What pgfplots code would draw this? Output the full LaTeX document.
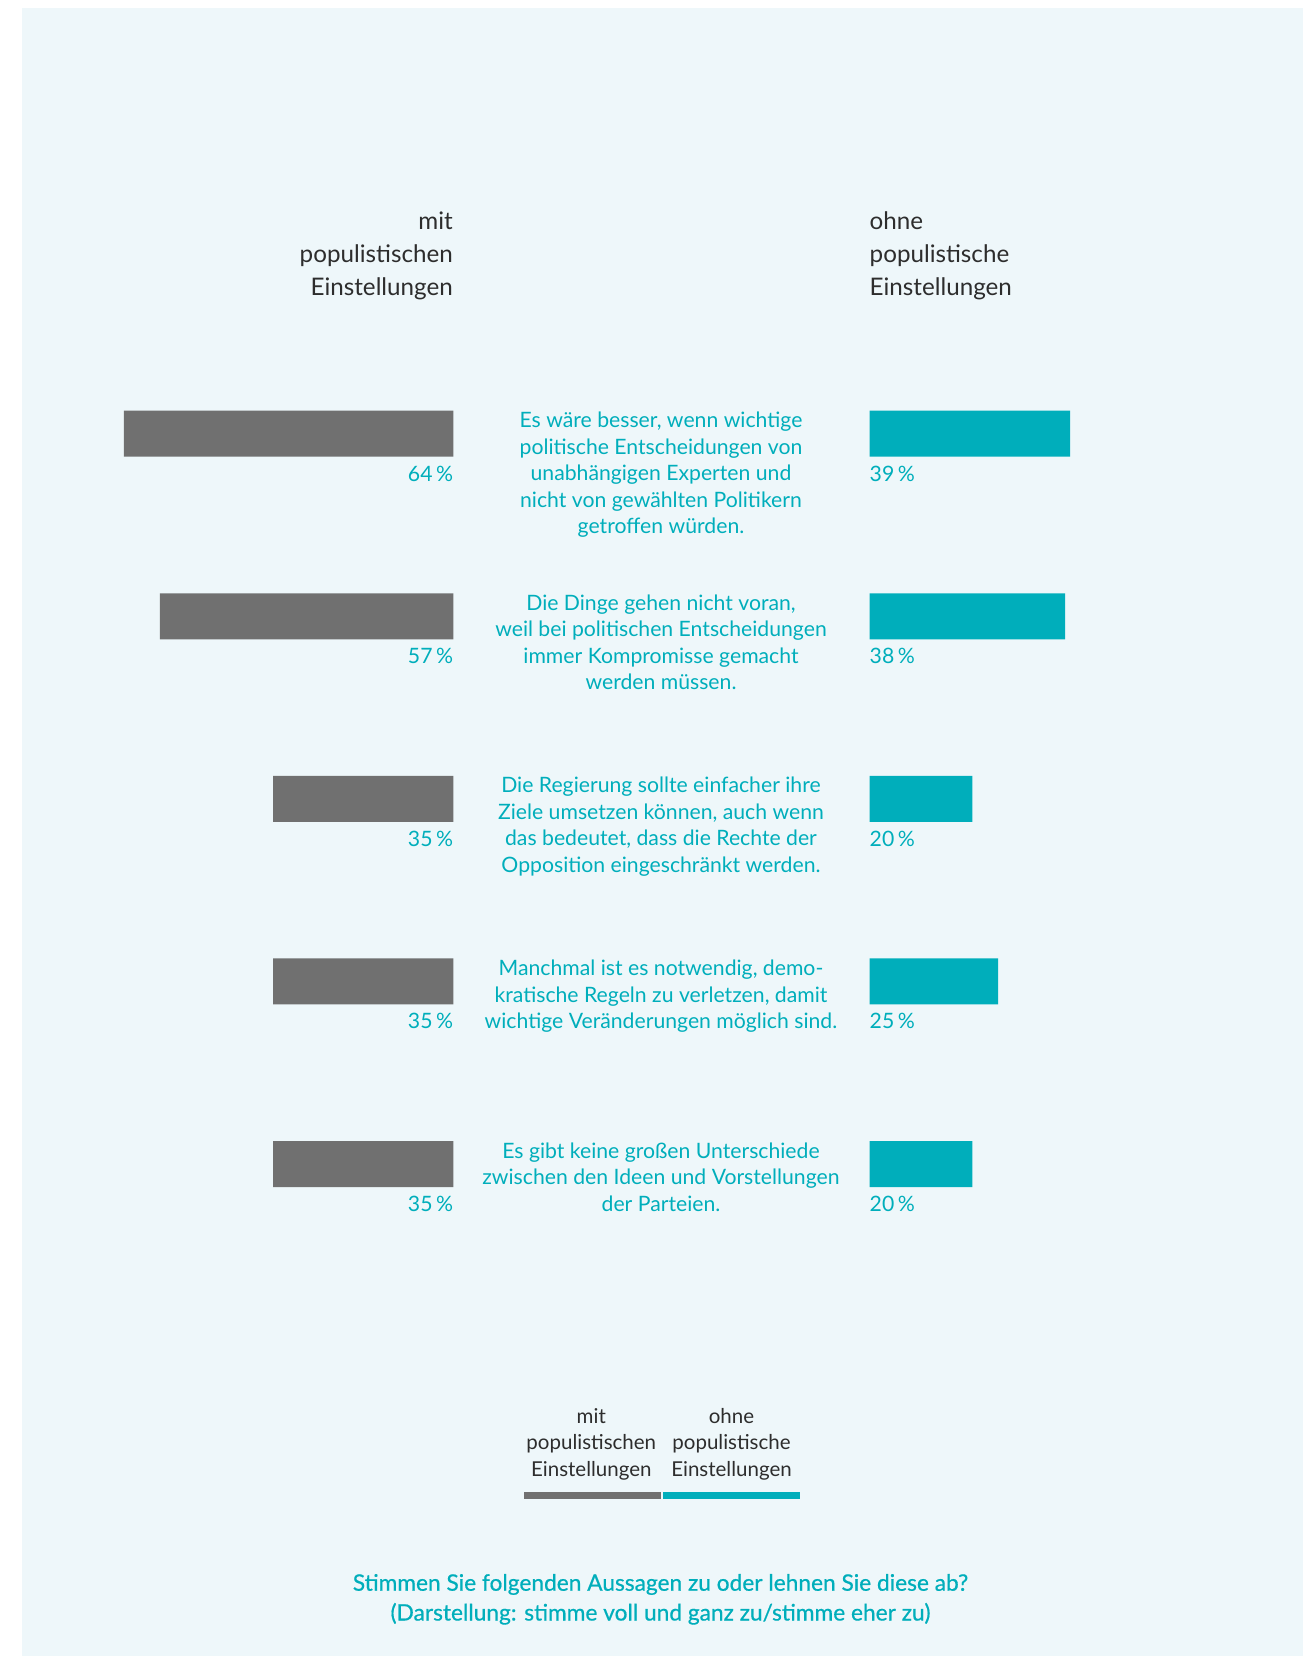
\documentclass[border=0pt]{standalone}
\usepackage{fontspec}
\setmainfont{Lato}
\newfontfamily\medfont{Lato}[FakeBold=0.6]
\usepackage{pgfplots}
\usepackage{pgfplotstable}
\pgfplotsset{compat=1.18}

\definecolor{tealc}{HTML}{00AEBB}
\definecolor{grayc}{HTML}{707070}
\definecolor{bgc}{HTML}{EEF7FA}
\definecolor{darkc}{HTML}{2D2D2D}

% pos = row (0 = top), mit / ohne = share in percent, lx = where the label sits
\pgfplotstableread{
pos mit ohne lx
0   64  39   0
1   57  38   0
2   35  20   0
3   35  25   0
4   35  20   0
}\data

\tikzset{
  stmt/.style={font=\fontsize{21.2}{26}\selectfont, text=tealc},
  hdr/.style={font=\fontsize{24.2}{30}\selectfont, text=darkc},
  leg/.style={font=\fontsize{20.5}{26}\selectfont, text=darkc},
  ttl/.style={font=\medfont\fontsize{22.7}{29}\selectfont, text=tealc},
}

% #1 x, #2 first baseline (from top), #3 line distance, #4 node options, #5 lines
\newcommand\textlines[5]{%
  \foreach \t [count=\i from 0] in {#5} {
    \node[anchor=base, inner sep=0pt, #4] at ({#1pt},{-(#2+#3*\i)*1pt}) {\t};
  }%
}

\begin{document}
\begin{tikzpicture}
\path[use as bounding box] (0,0) rectangle (1303pt,-1656pt);
\fill[white] (0,0) rectangle (1303pt,-1656pt);
\fill[bgc] (22pt,-8pt) rectangle (1303pt,-1656pt);

% left: mit populistischen Einstellungen
\begin{axis}[
  at={(453.3pt,-251.1pt)}, anchor=north east,
  scale only axis, width=411.7pt, height=1095.6pt,
  x dir=reverse, y dir=reverse,
  xmin=0, xmax=80, ymin=-1, ymax=5,
  hide axis, clip=false,
]
\addplot[xbar, fill=grayc, draw=none, bar width=46pt, bar shift=0pt]
  table[x=mit, y=pos] {\data};
\addplot[draw=none, mark=none,
  point meta=explicit symbolic,
  nodes near coords={\pgfplotspointmeta\,\%},
  every node near coord/.append style={stmt, anchor=base east, inner sep=0pt, yshift=-47.3pt}]
  table[x=lx, y=pos, meta=mit] {\data};
\end{axis}

% right: ohne populistische Einstellungen
\begin{axis}[
  at={(869.5pt,-251.1pt)}, anchor=north west,
  scale only axis, width=411.7pt, height=1095.6pt,
  y dir=reverse,
  xmin=0, xmax=80, ymin=-1, ymax=5,
  hide axis, clip=false,
]
\addplot[xbar, fill=tealc, draw=none, bar width=46pt, bar shift=0pt]
  table[x=ohne, y=pos] {\data};
\addplot[draw=none, mark=none,
  point meta=explicit symbolic,
  nodes near coords={\pgfplotspointmeta\,\%},
  every node near coord/.append style={stmt, anchor=base west, inner sep=0pt, yshift=-47.3pt}]
  table[x=lx, y=pos, meta=ohne] {\data};
\end{axis}

% legend swatches
\begin{axis}[
  at={(524pt,-1492pt)}, anchor=north west,
  scale only axis, width=276pt, height=7.3pt,
  xmin=524, xmax=800, ymin=0, ymax=1,
  hide axis, clip=false,
]
\addplot[grayc, line width=7.3pt] coordinates {(524,0.5) (661,0.5)};
\addplot[tealc, line width=7.3pt] coordinates {(663,0.5) (800,0.5)};
\end{axis}

% column heads
\textlines{453}{229.3}{33}{hdr, anchor=base east}{mit,populistischen,Einstellungen}
\textlines{869.5}{229.3}{33}{hdr, anchor=base west}{ohne,populistische,Einstellungen}

% statements
\textlines{661}{427.7}{26.5}{stmt}{{Es wäre besser, wenn wichtige},{politische Entscheidungen von},{unabhängigen Experten und},{nicht von gewählten Politikern},{getroffen würden.}}
\textlines{661}{610.3}{26.5}{stmt}{{Die Dinge gehen nicht voran,},{weil bei politischen Entscheidungen},{immer Kompromisse gemacht},{werden müssen.}}
\textlines{661}{792.9}{26.5}{stmt}{{Die Regierung sollte einfacher ihre},{Ziele umsetzen können, auch wenn},{das bedeutet, dass die Rechte der},{Opposition eingeschränkt werden.}}
\textlines{661}{975.5}{26.5}{stmt}{{Manchmal ist es notwendig, demo-},{kratische Regeln zu verletzen, damit},{wichtige Veränderungen möglich sind.}}
\textlines{661}{1158.1}{26.5}{stmt}{{Es gibt keine großen Unterschiede},{zwischen den Ideen und Vorstellungen},{der Parteien.}}

% legend text
\textlines{591.3}{1423}{26.5}{leg}{mit,populistischen,Einstellungen}
\textlines{731.5}{1423}{26.5}{leg}{ohne,populistische,Einstellungen}

% question
\textlines{660.5}{1590.7}{29.8}{ttl}{{Stimmen Sie folgenden Aussagen zu oder lehnen Sie diese ab?},{(Darstellung: stimme voll und ganz zu/stimme eher zu)}}
\end{tikzpicture}
\end{document}
